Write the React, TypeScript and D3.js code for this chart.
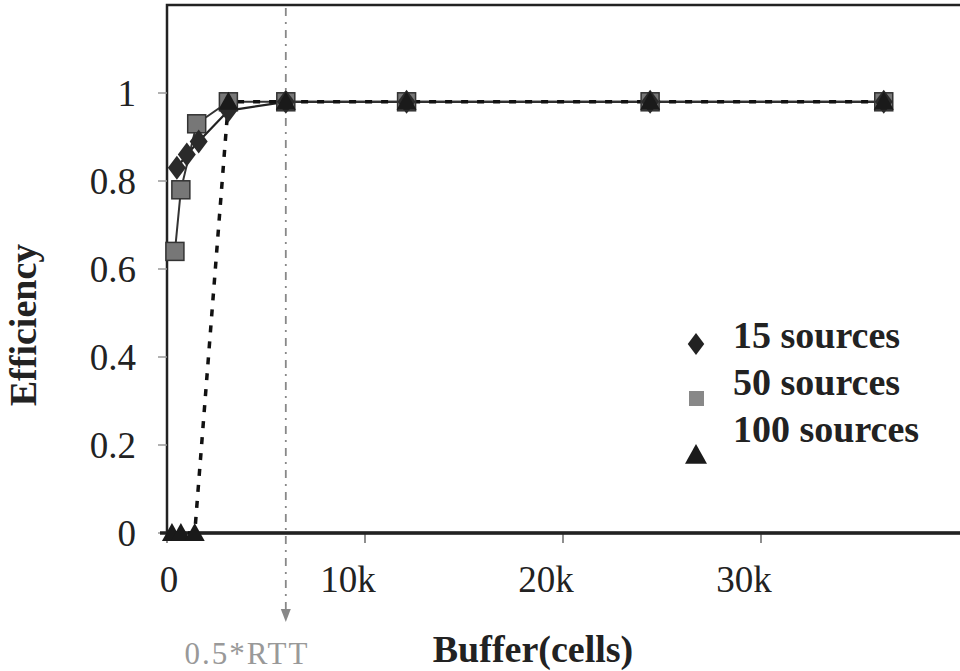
import React from "react";
import * as d3 from "d3";

const xTicks = [0, 10000, 20000, 30000];
const xTickLabels = ["0", "10k", "20k", "30k"];
const yTicks = [0, 0.2, 0.4, 0.6, 0.8, 1];
const yTickLabels = ["0", "0.2", "0.4", "0.6", "0.8", "1"];

const src15X = [500, 1000, 1600, 3100, 6000, 12100, 24400, 36200];
const src15Y = [0.83, 0.86, 0.89, 0.96, 0.98, 0.98, 0.98, 0.98];
const src50X = [400, 700, 1500, 3100, 6000, 12100, 24400, 36200];
const src50Y = [0.64, 0.78, 0.93, 0.98, 0.98, 0.98, 0.98, 0.98];
const src100X = [250, 700, 1400, 3100, 6000, 12100, 24400, 36200];
const src100Y = [0, 0, 0, 0.98, 0.98, 0.98, 0.98, 0.98];

const rttX = 6000;
const legendLabels = ["15 sources", "50 sources", "100 sources"];

const W = 960, H = 671;
const FONT = "'Liberation Serif', 'DejaVu Serif', serif";

export default function App() {
  const x = d3.scaleLinear().domain([0, 40000]).range([167, 959]);
  const y = d3.scaleLinear().domain([0, 1.2]).range([533, 5]);
  const line = d3.line<[number, number]>().x(d => x(d[0])).y(d => y(d[1]));
  const s15 = src15X.map((v, i) => [v, src15Y[i]] as [number, number]);
  const s50 = src50X.map((v, i) => [v, src50Y[i]] as [number, number]);
  const s100 = src100X.map((v, i) => [v, src100Y[i]] as [number, number]);
  const diamond = (cx: number, cy: number, r = 10) =>
    `M${cx},${cy - r}L${cx + r * 0.75},${cy}L${cx},${cy + r}L${cx - r * 0.75},${cy}Z`;
  const tri = (cx: number, cy: number, r = 10) =>
    `M${cx},${cy - r}L${cx + r},${cy + r * 0.8}L${cx - r},${cy + r * 0.8}Z`;

  return (
    <div style={{ position: "fixed", left: 0, top: 0, width: W, height: H, background: "#fff" }}>
      <svg width={W} height={H} style={{ display: "block", fontFamily: FONT }}>
        <rect x={0} y={0} width={W} height={H} fill="#fff" />
        {/* frame */}
        <rect x={167} y={5} width={800} height={528} fill="none" stroke="#222" strokeWidth={2.5} />
        {/* y ticks */}
        {yTicks.map((t, i) => (
          <g key={i}>
            <line x1={158} x2={167} y1={y(t)} y2={y(t)} stroke="#999" strokeWidth={1.5} />
            <text x={136} y={y(t)} dy="0.35em" textAnchor="end" fontSize={37} fill="#222">{yTickLabels[i]}</text>
          </g>
        ))}
        {/* x ticks */}
        {xTicks.map((t, i) => (
          <g key={i}>
            <line x1={x(t)} x2={x(t)} y1={533} y2={543} stroke="#444" strokeWidth={1.2} />
            <text x={x(t) - (t > 0 ? 17 : -2)} y={592} textAnchor="middle" fontSize={37} fill="#222">{xTickLabels[i]}</text>
          </g>
        ))}
        {/* x axis line */}
        <line x1={160} x2={960} y1={533} y2={533} stroke="#222" strokeWidth={3.5} />
        {/* RTT vertical dash-dot */}
        <line x1={x(rttX)} x2={x(rttX)} y1={8} y2={610} stroke="#888" strokeWidth={1.8} strokeDasharray="8,6,2,6" />
        <path d={`M${x(rttX) - 5},${609}L${x(rttX) + 5},${609}L${x(rttX)},${622}Z`} fill="#888" />
        <text x={247} y={664} textAnchor="middle" fontSize={31} letterSpacing={2} fill="#999">0.5*RTT</text>
        {/* lines */}
        <path d={line(s15) || ""} fill="none" stroke="#222" strokeWidth={2.2} />
        <path d={line(s50) || ""} fill="none" stroke="#333" strokeWidth={2} />
        <path d={line(s100) || ""} fill="none" stroke="#111" strokeWidth={3.5} strokeDasharray="7,9" />
        {/* markers */}
        {s50.map((d, i) => (
          <rect key={"s" + i} x={x(d[0]) - 9} y={y(d[1]) - 9} width={18} height={18} fill="#777" stroke="#333" strokeWidth={1.5} />
        ))}
        {s15.map((d, i) => (
          <path key={"d" + i} d={diamond(x(d[0]), y(d[1]), 12)} fill="#2a2a2a" />
        ))}
        {s100.map((d, i) => (
          <path key={"t" + i} d={tri(x(d[0]), y(d[1]), 10)} fill="#1a1a1a" />
        ))}
        {/* legend */}
        <path d={diamond(696, 344, 11)} fill="#222" />
        <rect x={689} y={391} width={15} height={15} fill="#888" />
        <path d={tri(696, 455, 11)} fill="#1a1a1a" />
        {legendLabels.map((l, i) => (
          <text key={l} x={733} y={348 + i * 47} fontSize={38} fontWeight="bold" fill="#222">{l}</text>
        ))}
        {/* axis titles */}
        <text x={533} y={662} textAnchor="middle" fontSize={38} fontWeight="bold" fill="#222">Buffer(cells)</text>
        <text transform="translate(36,325) rotate(-90)" textAnchor="middle" fontSize={38} fontWeight="bold" fill="#222">Efficiency</text>
      </svg>
    </div>
  );
}
